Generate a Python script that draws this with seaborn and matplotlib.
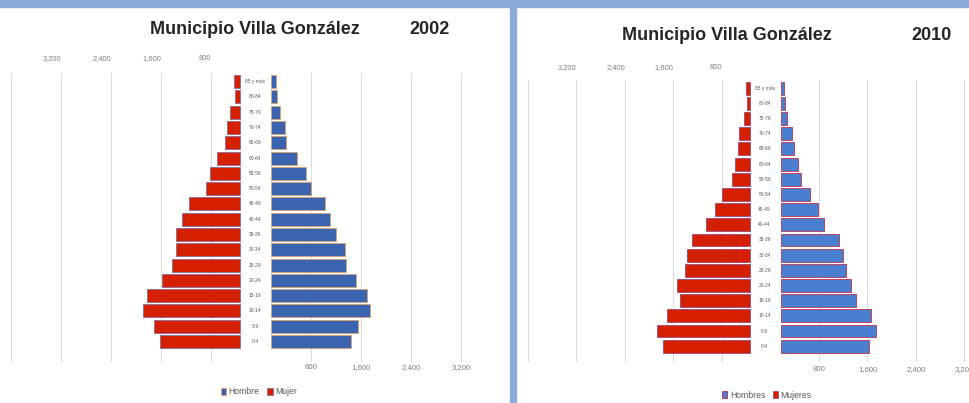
import matplotlib
matplotlib.use("Agg")
import matplotlib.pyplot as plt
from matplotlib.patches import Rectangle
import seaborn as sns
import pandas as pd

sns.set_theme(style="white")
plt.rcParams["font.family"] = ["Liberation Sans", "DejaVu Sans"]

# age groups, top to bottom
ages = ["85 y más", "80-84", "75-79", "70-74", "65-69", "60-64", "55-59", "50-54",
        "45-49", "40-44", "35-39", "30-34", "25-29", "20-24", "15-19", "10-14", "5-9", "0-4"]

# 2002 (blue right = Hombre, red left = Mujer)
hombre_2002 = [70, 95, 145, 215, 240, 410, 560, 630, 855, 935, 1040, 1175, 1190, 1360, 1535, 1575, 1385, 1280]
mujer_2002 = [90, 80, 160, 200, 240, 360, 480, 545, 810, 930, 1025, 1020, 1090, 1245, 1480, 1545, 1375, 1280]

# 2010
hombres_2010 = [55, 70, 110, 195, 220, 285, 330, 485, 615, 725, 960, 1030, 1075, 1165, 1240, 1485, 1570, 1455]
mujeres_2010 = [70, 55, 100, 180, 200, 250, 290, 455, 580, 720, 960, 1035, 1075, 1200, 1155, 1365, 1540, 1430]

tick_vals = [800, 1600, 2400, 3200]
tick_labels = ["800", "1,600", "2,400", "3,200"]

RED = "#d52000"
GAP_L = 340   # white gap holding the age labels
GAP_R = 165
title_font = ["Liberation Sans Narrow", "Liberation Sans", "DejaVu Sans"]

W, H = 970, 403
fig = plt.figure(figsize=(W / 100, H / 100), dpi=100, facecolor="white")


def pyramid(ax, hombres, mujeres, lab_h, lab_m, blue, edge_b, edge_r, ylim, top_pad, bottom_pad):
    d = pd.DataFrame({"edad": ages, "h": hombres, "m": [-v for v in mujeres]})
    sns.barplot(data=d, x="h", y="edad", orient="h", color=blue, saturation=1, width=0.85,
                edgecolor=edge_b, linewidth=0.6, errorbar=None, left=GAP_R, label=lab_h, ax=ax)
    sns.barplot(data=d, x="m", y="edad", orient="h", color=RED, saturation=1, width=0.85,
                edgecolor=edge_r, linewidth=0.6, errorbar=None, left=-GAP_L, label=lab_m, ax=ax)
    if ax.get_legend() is not None:
        ax.get_legend().remove()

    ax.set_xlim(-4000, 4000)
    ax.set_ylim(*ylim)
    ax.set(xlabel="", ylabel="")
    ax.set_yticks([])
    grid = [-4000] + [-t for t in tick_vals] + tick_vals + [4000]
    ax.set_xticks(grid, labels=["" if t <= 0 or t == 4000 else tick_labels[tick_vals.index(t)] for t in grid])
    ax.tick_params(axis="x", length=0, pad=bottom_pad, labelsize=5.6, labelcolor="#7f7f7f")
    ax.grid(axis="x", color="#d9d9d9", linewidth=0.7)
    ax.set_axisbelow(True)
    for s in ax.spines.values():
        s.set_visible(False)

    sec = ax.secondary_xaxis("top")
    sec.set_xticks([-t for t in tick_vals], labels=tick_labels)
    sec.tick_params(length=0, pad=top_pad, labelsize=5.4, labelcolor="#7f7f7f")
    for lab in sec.get_xticklabels():
        lab.set_ha("right")
    for s in sec.spines.values():
        s.set_visible(False)

    for i, a in enumerate(ages):
        ax.text(-95, i, a, ha="center", va="center", fontsize=3.5, color="#595959")


# left panel: 2002
ax1 = fig.add_axes([11 / W, 1 - 362 / H, 500 / W, (362 - 73) / H])
pyramid(ax1, hombre_2002, mujer_2002, "Hombre", "Mujer", "#3a63b0", "#d9a070", "#8a6a9a",
        (18.34, -0.56), 8.2, 1.2)
fig.legend(handles=ax1.containers, labels=["Hombre", "Mujer"], loc="center",
           bbox_to_anchor=(259 / W, 1 - 392 / H), ncol=2, frameon=False, fontsize=6.2,
           handlelength=0.6, handleheight=0.8, handletextpad=0.3, columnspacing=0.9,
           labelcolor="#595959")
fig.text(255 / W, 1 - 30 / H, "Municipio Villa González", ha="center", va="center",
         fontsize=13, fontweight="bold", family=title_font)
fig.text(430 / W, 1 - 30 / H, "2002", ha="center", va="center",
         fontsize=13, fontweight="bold", family=title_font)

# right panel: 2010
ax2 = fig.add_axes([528 / W, 1 - 362 / H, 485 / W, (362 - 80) / H])
pyramid(ax2, hombres_2010, mujeres_2010, "Hombres", "Mujeres", "#4a7fd0", "#c03050", "#9a4a80",
        (18.04, -0.54), 6.8, 3.2)
fig.legend(handles=ax2.containers, labels=["Hombres", "Mujeres"], loc="center",
           bbox_to_anchor=(767 / W, 1 - 395 / H), ncol=2, frameon=False, fontsize=6.2,
           handlelength=0.6, handleheight=0.8, handletextpad=0.3, columnspacing=0.9,
           labelcolor="#595959")
fig.text(727 / W, 1 - 35 / H, "Municipio Villa González", ha="center", va="center",
         fontsize=13, fontweight="bold", family=title_font)
fig.text(932 / W, 1 - 35 / H, "2010", ha="center", va="center",
         fontsize=13, fontweight="bold", family=title_font)

# frame bits: top band and divider between the two pictures
fig.patches.append(Rectangle((0, 1 - 7 / H), 1, 7 / H, transform=fig.transFigure,
                             color="#8eaadb", zorder=10))
fig.patches.append(Rectangle((510 / W, 0), 6 / W, 1, transform=fig.transFigure,
                             color="#8eaadb", zorder=10))

fig.savefig("out.png", dpi=100, facecolor="white")
